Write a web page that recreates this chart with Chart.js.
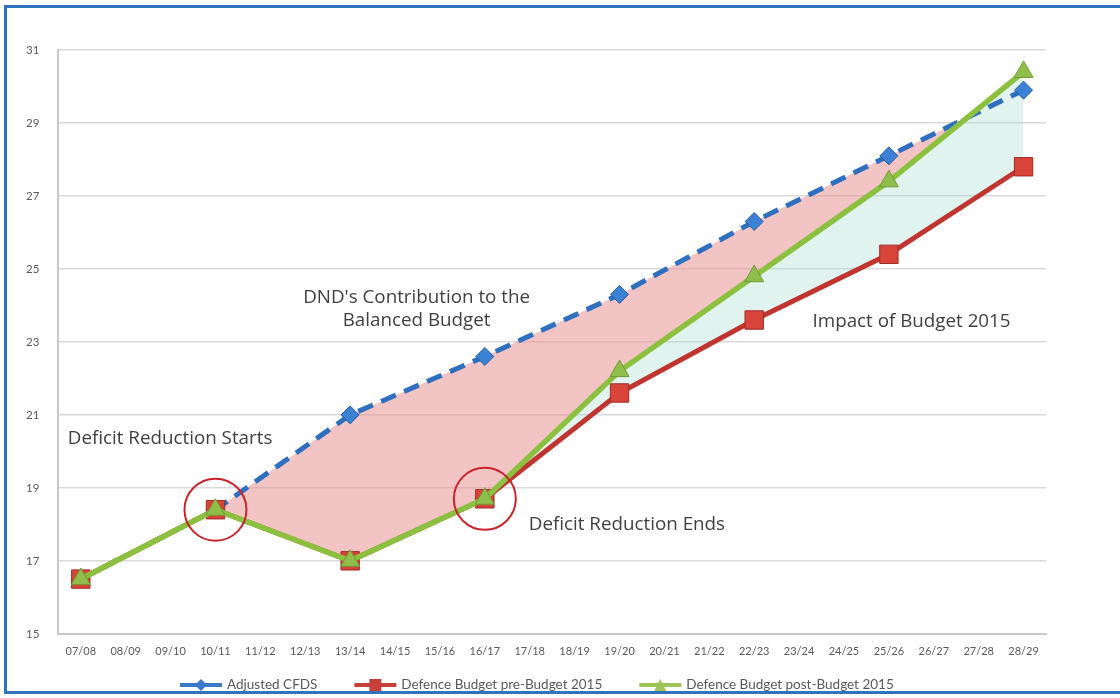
<!DOCTYPE html>
<html>
<head>
<meta charset="utf-8">
<script src="https://cdn.jsdelivr.net/npm/chart.js@4.4.1/dist/chart.umd.min.js"></script>
<style>
  html, body { margin: 0; padding: 0; background: #fff; }
  #wrap { position: relative; width: 1120px; height: 698px; overflow: hidden; }
  #frame { position: absolute; left: 4px; top: 5px; width: 1130px; height: 689px;
           border: 3px solid #2f72bd; box-sizing: border-box; pointer-events: none; }
  canvas { position: absolute; left: 0; top: 0; }
</style>
</head>
<body>
<div id="wrap">
  <canvas id="c" width="1120" height="698"></canvas>
  <div id="frame"></div>
</div>
<script>
// ---- data ----
const categories = ['07/08','08/09','09/10','10/11','11/12','12/13','13/14','14/15','15/16','16/17','17/18',
                    '18/19','19/20','20/21','21/22','22/23','23/24','24/25','25/26','26/27','27/28','28/29'];
const pointCategories = ['07/08','10/11','13/14','16/17','19/20','22/23','25/26','28/29'];
const adjustedCFDS   = [16.5, 18.4, 21.0, 22.6, 24.3, 26.3, 28.1, 29.9];
const preBudget2015  = [16.5, 18.4, 17.0, 18.7, 21.6, 23.6, 25.4, 27.8];
const postBudget2015 = [16.5, 18.4, 17.0, 18.7, 22.2, 24.8, 27.4, 30.4];
const yTicks = [15, 17, 19, 21, 23, 25, 27, 29, 31];
const seriesNames = ['Adjusted CFDS', 'Defence Budget pre-Budget 2015', 'Defence Budget post-Budget 2015'];

const annotations = [
  { text: 'Deficit Reduction Starts', x: -0.29, y: 20.34, align: 'left' },
  { text: "DND's Contribution to the", x: 7.48, y: 24.2, align: 'center' },
  { text: 'Balanced Budget', x: 7.48, y: 23.57, align: 'center' },
  { text: 'Deficit Reduction Ends', x: 9.98, y: 18.0, align: 'left' },
  { text: 'Impact of Budget 2015', x: 16.3, y: 23.55, align: 'left' }
];
const circles = [
  { cat: '10/11', y: 18.4 },
  { cat: '16/17', y: 18.7 }
];

const toXY = vals => pointCategories.map((c, i) => ({ x: c, y: vals[i] }));

const BLUE = '#2f6fc0', RED = '#c0352f', GREEN = '#8cc03f';
const legendStyles = [
  { color: '#3a78c8', marker: 'diamond' },
  { color: '#c8403a', marker: 'square' },
  { color: '#9cc555', marker: 'triangle' }
];

function drawLegendIcon(g, x, y, color, marker) {
  g.save();
  g.strokeStyle = color; g.lineWidth = 4;
  g.beginPath(); g.moveTo(x, y); g.lineTo(x + 42, y); g.stroke();
  g.fillStyle = color;
  g.beginPath();
  const cx = x + 21;
  if (marker === 'diamond') { g.moveTo(cx, y - 6); g.lineTo(cx + 6, y); g.lineTo(cx, y + 6); g.lineTo(cx - 6, y); g.closePath(); }
  else if (marker === 'square') { g.rect(cx - 6, y - 6, 12, 12); }
  else { g.moveTo(cx, y - 6); g.lineTo(cx + 6, y + 6); g.lineTo(cx - 6, y + 6); g.closePath(); }
  g.fill();
  g.restore();
}

const overlayPlugin = {
  id: 'overlay',
  afterDatasetsDraw(chart) {
    const { ctx, scales: { x, y } } = chart;
    ctx.save();
    ctx.strokeStyle = '#c8232b';
    ctx.lineWidth = 2;
    circles.forEach(c => {
      const px = x.getPixelForValue(categories.indexOf(c.cat));
      const py = y.getPixelForValue(c.y);
      ctx.beginPath(); ctx.arc(px, py, 31, 0, Math.PI * 2); ctx.stroke();
    });
    ctx.fillStyle = '#3f3f3f';
    ctx.font = '18.8px "Open Sans"';
    ctx.textBaseline = 'middle';
    annotations.forEach(a => {
      ctx.textAlign = a.align;
      ctx.fillText(a.text, x.getPixelForValue(a.x), y.getPixelForValue(a.y));
    });
    ctx.restore();
  },
  afterDraw(chart) {
    // bottom legend
    const ctx = chart.ctx;
    ctx.save();
    ctx.font = '13.5px Lato';
    ctx.fillStyle = '#595959';
    ctx.textAlign = 'left';
    ctx.textBaseline = 'middle';
    const ly = chart.height - 13;
    let lx = 180;
    chart.data.datasets.forEach((d, i) => {
      drawLegendIcon(ctx, lx, ly, legendStyles[i].color, legendStyles[i].marker);
      ctx.fillText(d.label, lx + 47, ly);
      lx += 47 + ctx.measureText(d.label).width + 37;
    });
    ctx.restore();
  }
};

new Chart(document.getElementById('c'), {
  type: 'line',
  data: {
    labels: categories,
    datasets: [
      {
        label: seriesNames[0], data: toXY(adjustedCFDS),
        borderColor: BLUE, borderWidth: 5, borderDash: [16, 9],
        pointStyle: 'rectRot', pointRadius: 9, pointBackgroundColor: '#3c82d4', pointBorderColor: '#2a5c9e', pointBorderWidth: 1,
        fill: { target: 2, above: 'rgba(232,148,148,0.55)', below: 'rgba(0,0,0,0)' },
        order: 3
      },
      {
        label: seriesNames[1], data: toXY(preBudget2015),
        borderColor: RED, borderWidth: 5,
        pointStyle: 'rect', pointRadius: 13, pointBackgroundColor: '#d8433a', pointBorderColor: '#a02b26', pointBorderWidth: 1,
        fill: false, order: 2
      },
      {
        label: seriesNames[2], data: toXY(postBudget2015),
        borderColor: GREEN, borderWidth: 5.5,
        pointStyle: 'triangle', pointRadius: 11, pointBackgroundColor: '#8fbf4a', pointBorderColor: '#6f9a33', pointBorderWidth: 1,
        fill: { target: 1, above: 'rgba(168,220,208,0.35)', below: 'rgba(0,0,0,0)' },
        order: 1
      }
    ]
  },
  options: {
    responsive: false,
    animation: false,
    layout: { padding: { left: 7, right: 74, top: 50, bottom: 29 } },
    scales: {
      x: {
        type: 'category', offset: true,
        grid: { display: false, drawTicks: false },
        border: { color: '#c8c8c8', width: 2 },
        ticks: { color: '#595959', font: { family: 'Lato', size: 11 }, padding: 11, maxRotation: 0, autoSkip: false }
      },
      y: {
        min: 15, max: 31,
        afterBuildTicks: s => { s.ticks = yTicks.map(v => ({ value: v })); },
        grid: { color: '#d9d9d9', lineWidth: 1.5, drawTicks: false },
        border: { color: '#c8c8c8', width: 2 },
        ticks: { color: '#595959', font: { family: 'Lato', size: 11.5 }, padding: 19 }
      }
    },
    plugins: {
      tooltip: { enabled: false },
      legend: { display: false },
      filler: { drawTime: 'beforeDatasetsDraw' }
    }
  },
  plugins: [overlayPlugin]
});
</script>
</body>
</html>
